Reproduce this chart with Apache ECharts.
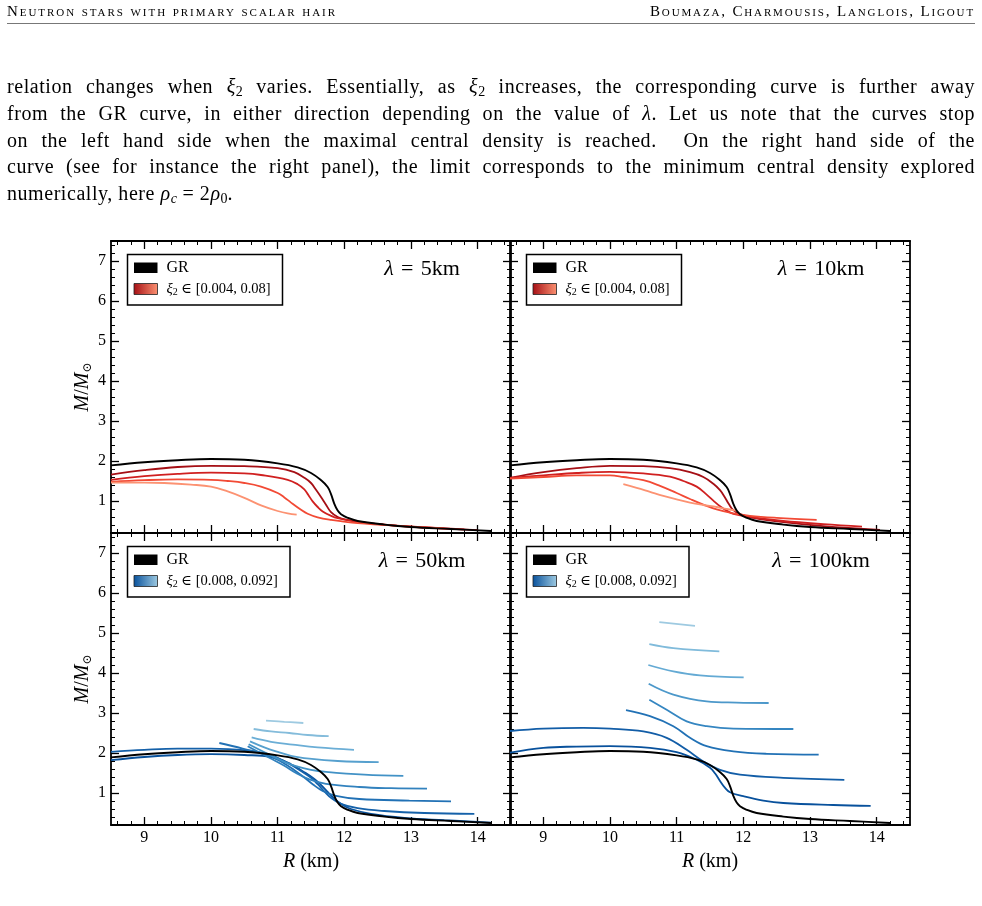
<!DOCTYPE html>
<html>
<head>
<meta charset="utf-8">
<script src="https://cdn.jsdelivr.net/npm/echarts@6/dist/echarts.min.js"></script>
<style>
html, body { margin: 0; padding: 0; background: #fff; }
body { width: 982px; height: 906px; position: relative; overflow: hidden;
  font-family: "Liberation Serif", "DejaVu Serif", serif; color: #000; }
#chart { position: absolute; left: 0; top: 0; width: 982px; height: 906px; }
.hdr { position: absolute; top: 3px; font-size: 15px; line-height: 17px; font-variant: small-caps; white-space: nowrap; }
.rule { position: absolute; left: 7px; top: 23px; width: 968px; height: 1.3px; background: #777; }
.line { position: absolute; left: 7px; width: 968px; font-size: 20px; line-height: 26.7px; white-space: nowrap;
  text-align: justify; text-align-last: justify; letter-spacing: 0.55px; }
.line.last { text-align: left; text-align-last: left; }
sub { font-size: 14px; line-height: 0; vertical-align: -3px; letter-spacing: 0; }
</style>
</head>
<body>
<div id="chart"></div>
<div class="hdr" id="hl" style="left:7px">Neutron stars with primary scalar hair</div>
<div class="hdr" id="hr" style="right:7px">Boumaza, Charmousis, Langlois, Ligout</div>
<div class="rule"></div>
<div class="line" style="top:73.2px">relation changes when <i>ξ</i><sub>2</sub> varies. Essentially, as <i>ξ</i><sub>2</sub> increases, the corresponding curve is further away</div>
<div class="line" style="top:99.9px">from the GR curve, in either direction depending on the value of <i>λ</i>. Let us note that the curves stop</div>
<div class="line" style="top:126.6px">on the left hand side when the maximal central density is reached.&nbsp; On the right hand side of the</div>
<div class="line" style="top:153.3px">curve (see for instance the right panel), the limit corresponds to the minimum central density explored</div>
<div class="line last" style="top:180px">numerically, here <i>ρ<sub>c</sub></i> = 2<i>ρ</i><sub>0</sub>.</div>
<script>
// axes
const xMin = 8.5, xMax = 14.5, yMin = 0.2, yMax = 7.5;
const xMajor = [9, 10, 11, 12, 13, 14];
const yMajor = [1, 2, 3, 4, 5, 6, 7];

// GR curve, same in every panel
const grCurve = [[8.5,1.89],[9,1.97],[9.5,2.02],[10,2.05],[10.5,2.03],[11,1.94],[11.3,1.84],[11.5,1.7],[11.65,1.52],[11.75,1.35],[11.8,1.17],[11.85,0.93],[11.9,0.76],[11.95,0.67],[12.05,0.58],[12.2,0.5],[12.6,0.41],[13,0.35],[13.6,0.3],[14.2,0.25]];

// lambda = 5km, xi2 in [0.004, 0.08]
const l5r1 = [[8.5,1.66],[9,1.77],[9.5,1.85],[10,1.88],[10.5,1.87],[11,1.82],[11.25,1.72],[11.4,1.58],[11.5,1.45],[11.575,1.28],[11.65,1.1],[11.72,0.92],[11.8,0.72],[11.9,0.6],[12,0.54],[12.3,0.46],[12.8,0.38],[13.4,0.32],[14,0.27]];
const l5r2 = [[8.5,1.53],[9,1.62],[9.5,1.68],[10,1.71],[10.5,1.69],[10.75,1.65],[11.15,1.53],[11.3,1.42],[11.4,1.29],[11.46,1.15],[11.525,0.99],[11.6,0.85],[11.675,0.74],[11.8,0.63],[11.9,0.57],[12.2,0.48],[12.6,0.41],[13.1,0.35],[13.8,0.29]];
const l5r3 = [[8.5,1.48],[9,1.52],[9.5,1.54],[10,1.53],[10.25,1.5],[10.5,1.45],[10.75,1.36],[11,1.2],[11.1,1.09],[11.2,0.96],[11.35,0.78],[11.45,0.68],[11.6,0.59],[11.8,0.53],[12.2,0.45],[12.8,0.38],[13.5,0.32]];
const l5r4 = [[8.5,1.46],[9,1.46],[9.3,1.45],[9.7,1.41],[10,1.36],[10.25,1.24],[10.5,1.08],[10.75,0.89],[11,0.75],[11.15,0.69],[11.285,0.66]];

// lambda = 10km
const l10r1 = [[8.5,1.58],[9,1.72],[9.5,1.82],[10,1.88],[10.5,1.87],[10.9,1.82],[11.2,1.72],[11.4,1.6],[11.55,1.43],[11.65,1.27],[11.72,1.1],[11.78,0.93],[11.85,0.77],[11.95,0.67],[12.15,0.58],[12.6,0.47],[13.2,0.37],[14.05,0.28]];
const l10r2 = [[8.5,1.58],[9,1.64],[9.5,1.7],[10,1.73],[10.5,1.69],[10.9,1.61],[11.1,1.5],[11.3,1.36],[11.45,1.16],[11.55,1.01],[11.65,0.87],[11.75,0.76],[11.85,0.68],[12.1,0.6],[12.6,0.5],[13.2,0.42],[13.78,0.36]];
const l10r3 = [[8.5,1.56],[9,1.6],[9.5,1.64],[10,1.64],[10.2,1.6],[10.5,1.52],[10.75,1.38],[11,1.2],[11.2,1.05],[11.4,0.91],[11.6,0.79],[11.85,0.69],[12.1,0.63],[12.5,0.58],[13.1,0.53]];
const l10r4 = [[10.2,1.42],[10.4,1.33],[10.6,1.23],[10.8,1.13],[11,1.04],[11.2,0.96],[11.4,0.9],[11.6,0.85],[11.75,0.8],[11.9,0.76]];

// lambda = 50km, xi2 in [0.008, 0.092]
const l50c0 = [[8.5,1.82],[9,1.9],[9.5,1.95],[10,1.97],[10.5,1.95],[10.9,1.9],[11.2,1.72],[11.4,1.52],[11.55,1.35],[11.65,1.2],[11.75,1.03],[11.85,0.86],[11.95,0.73],[12.1,0.6],[12.4,0.48],[12.9,0.38],[13.5,0.32],[14.2,0.26]];
const l50c1 = [[8.5,2.03],[9,2.08],[9.5,2.11],[10,2.11],[10.5,2.07],[10.9,1.95],[11.15,1.75],[11.35,1.55],[11.5,1.38],[11.6,1.22],[11.7,1.04],[11.8,0.88],[11.95,0.73],[12.2,0.62],[12.6,0.55],[13.2,0.5],[13.95,0.48]];
const l50c2 = [[10.125,2.25],[10.475,2.11],[10.875,1.93],[11.125,1.71],[11.375,1.42],[11.525,1.22],[11.675,1.05],[11.875,0.93],[12.225,0.85],[12.975,0.81],[13.6,0.79]];
const l50c3 = [[10.55,2.17],[10.875,1.88],[11.1,1.68],[11.275,1.5],[11.475,1.34],[11.725,1.23],[12.225,1.15],[12.7,1.12],[13.24,1.11]];
const l50c4 = [[10.565,2.22],[10.875,1.96],[11.1,1.78],[11.275,1.67],[11.5,1.58],[11.725,1.53],[12.3,1.46],[12.885,1.43]];
const l50c5 = [[10.585,2.29],[10.8,2.14],[10.975,2.04],[11.2,1.93],[11.475,1.86],[11.9,1.8],[12.515,1.77]];
const l50c6 = [[10.61,2.39],[10.9,2.28],[11.225,2.21],[11.6,2.14],[12.145,2.08]];
const l50c7 = [[10.64,2.6],[10.9,2.54],[11.175,2.5],[11.45,2.45],[11.765,2.42]];
const l50c8 = [[10.825,2.81],[11.1,2.78],[11.385,2.75]];

// lambda = 100km
const l100b1 = [[8.5,2.01],[9,2.13],[9.5,2.16],[10,2.17],[10.6,2.13],[11,2.02],[11.3,1.83],[11.5,1.63],[11.58,1.48],[11.65,1.3],[11.72,1.14],[11.8,1.02],[12,0.92],[12.3,0.81],[12.6,0.75],[13.35,0.7],[13.91,0.68]];
const l100b2 = [[8.5,2.55],[9,2.61],[9.6,2.63],[10,2.61],[10.5,2.54],[10.85,2.38],[11.15,2.08],[11.4,1.79],[11.65,1.58],[11.95,1.46],[12.6,1.38],[13.515,1.33]];
const l100b3 = [[10.24,3.07],[10.6,2.92],[10.95,2.67],[11.2,2.38],[11.45,2.17],[11.85,2.04],[12.35,1.98],[13.13,1.96]];
const l100b4 = [[10.59,3.33],[10.85,3.08],[11.15,2.79],[11.45,2.67],[11.85,2.61],[12.75,2.6]];
const l100b5 = [[10.58,3.73],[10.95,3.46],[11.45,3.29],[11.9,3.26],[12.38,3.25]];
const l100b6 = [[10.575,4.2],[10.95,4.04],[11.35,3.94],[12.005,3.89]];
const l100b7 = [[10.59,4.72],[10.95,4.62],[11.64,4.54]];
const l100b8 = [[10.74,5.27],[11.275,5.18]];

const lambdaLabels = ['5km', '10km', '50km', '100km'];
const xiRanges = ['[0.004, 0.08]', '[0.004, 0.08]', '[0.008, 0.092]', '[0.008, 0.092]'];

const reds = ['#a50f15', '#d02020', '#f24a35', '#fc9272'];
const blues9 = ['#08519c', '#1561a9', '#2171b5', '#3282be', '#4292c6', '#56a0ce', '#6baed6', '#84bcdb', '#9ecae1'];
const blues8 = ['#08519c', '#125da7', '#2171b5', '#3586c1', '#4c98ca', '#64aad4', '#80bbdb', '#9ecae1'];

const FONT = '"Liberation Serif","DejaVu Serif",serif';

const panels = [
  { left: 111, top: 241, curves: [l5r1, l5r2, l5r3, l5r4], colors: reds, grad: ['#a50f15', '#fc9272'], boxW: 155, xLab: false, yLab: true },
  { left: 510, top: 241, curves: [l10r1, l10r2, l10r3, l10r4], colors: reds, grad: ['#a50f15', '#fc9272'], boxW: 155, xLab: false, yLab: false },
  { left: 111, top: 533, curves: [l50c0, l50c1, l50c2, l50c3, l50c4, l50c5, l50c6, l50c7, l50c8], colors: blues9, grad: ['#08519c', '#9ecae1'], boxW: 162.5, xLab: true, yLab: true },
  { left: 510, top: 533, curves: [l100b1, l100b2, l100b3, l100b4, l100b5, l100b6, l100b7, l100b8], colors: blues8, grad: ['#08519c', '#9ecae1'], boxW: 162.5, xLab: true, yLab: false }
];
const W = 400, H = 292;

const xMinor = [], yMinor = [];
for (let v = 8.6; v < xMax; v += 0.2) {
  const r = Math.round(v * 10) / 10;
  if (Math.abs(r - Math.round(r)) > 1e-6) xMinor.push(r);
}
for (let v = 0.4; v < yMax; v += 0.2) {
  const r = Math.round(v * 10) / 10;
  if (Math.abs(r - Math.round(r)) > 1e-6) yMinor.push(r);
}

const nameRich = {
  i: { fontFamily: FONT, fontStyle: 'italic', fontSize: 20, lineHeight: 22, color: '#000' },
  n: { fontFamily: FONT, fontSize: 20, lineHeight: 22, color: '#000' },
  s: { fontFamily: 'DejaVu Serif', fontSize: 12, lineHeight: 12, verticalAlign: 'bottom', color: '#000' }
};

function axisSet(dim, g, pos, showLabel, name) {
  const isX = dim === 'x';
  const base = {
    gridIndex: g, type: 'value', position: pos,
    min: isX ? xMin : yMin, max: isX ? xMax : yMax,
    splitLine: { show: false }, minorTick: { show: false }, axisPointer: { show: false }
  };
  const major = Object.assign({}, base, {
    axisLine: { show: true, onZero: false, lineStyle: { color: '#000', width: 1.8 } },
    axisTick: { show: true, inside: true, length: 8, customValues: isX ? xMajor : yMajor, lineStyle: { color: '#000', width: 1.3 } },
    axisLabel: { show: showLabel, customValues: isX ? xMajor : yMajor, margin: 5, color: '#000', fontSize: 16, fontFamily: FONT },
    name: name || '',
    nameLocation: 'middle',
    nameGap: isX ? 26 : 15,
    nameRotate: isX ? 0 : 90,
    nameTextStyle: { color: '#000', fontFamily: FONT, fontSize: 20, rich: nameRich }
  });
  const minor = Object.assign({}, base, {
    axisLine: { show: false, onZero: false },
    axisTick: { show: true, inside: true, length: 4, customValues: isX ? xMinor : yMinor, lineStyle: { color: '#000', width: 1 } },
    axisLabel: { show: false }
  });
  return [major, minor];
}

const grids = [], xAxes = [], yAxes = [], series = [], graphics = [];
panels.forEach((p, g) => {
  grids.push({ left: p.left, top: p.top, width: W, height: H });
  const xi = xAxes.length, yi = yAxes.length;
  xAxes.push(...axisSet('x', g, 'bottom', p.xLab, p.xLab ? '{i|R}{n| (km)}' : ''));
  xAxes.push(...axisSet('x', g, 'top', false));
  yAxes.push(...axisSet('y', g, 'left', p.yLab, p.yLab ? '{i|M}{n|/}{i|M}{s|⊙}' : ''));
  yAxes.push(...axisSet('y', g, 'right', false));

  p.curves.forEach((c, k) => {
    series.push({
      type: 'line', xAxisIndex: xi, yAxisIndex: yi, data: c,
      showSymbol: false, smooth: 0.4, silent: true,
      lineStyle: { color: p.colors[k], width: 1.8 }, z: 2
    });
  });
  series.push({
    type: 'line', name: 'GR', xAxisIndex: xi, yAxisIndex: yi, data: grCurve,
    showSymbol: false, smooth: 0.4, silent: true,
    lineStyle: { color: '#000', width: 1.9 }, z: 3
  });

  // legend box
  const bx = p.left + 16.5, by = p.top + 13.5;
  graphics.push({ type: 'rect', z: 10, shape: { x: bx, y: by, width: p.boxW, height: 50.5 },
    style: { fill: '#fff', stroke: '#000', lineWidth: 1.5 } });
  graphics.push({ type: 'rect', z: 11, shape: { x: bx + 6.5, y: by + 8, width: 23.5, height: 10.5 },
    style: { fill: '#000' } });
  graphics.push({ type: 'rect', z: 11, shape: { x: bx + 6.5, y: by + 29, width: 23.5, height: 11 },
    style: { stroke: '#222', lineWidth: 0.8,
      fill: new echarts.graphic.LinearGradient(0, 0, 1, 0, [{ offset: 0, color: p.grad[0] }, { offset: 1, color: p.grad[1] }]) } });
  graphics.push({ type: 'text', z: 11, x: bx + 39, y: by + 13.5,
    style: { text: 'GR', fontFamily: FONT, fontSize: 16, fill: '#000', verticalAlign: 'middle' } });
  graphics.push({ type: 'text', z: 11, x: bx + 39, y: by + 34.5,
    style: { text: '{i|ξ}{s|2}{n| ∈ ' + xiRanges[g] + '}', verticalAlign: 'middle',
      rich: {
        i: { fontFamily: FONT, fontStyle: 'italic', fontSize: 14.5, lineHeight: 16, fill: '#000' },
        n: { fontFamily: FONT, fontSize: 14.5, lineHeight: 16, fill: '#000' },
        s: { fontFamily: FONT, fontSize: 10, lineHeight: 10, verticalAlign: 'bottom', fill: '#000' }
      } } });
  // lambda label
  graphics.push({ type: 'text', z: 11, x: p.left + 311, y: p.top + 28,
    style: { text: '{i|λ}{n|\u2004=\u2004' + lambdaLabels[g] + '}', align: 'center', verticalAlign: 'middle',
      rich: {
        i: { fontFamily: FONT, fontStyle: 'italic', fontSize: 22, fill: '#000' },
        n: { fontFamily: FONT, fontSize: 22, fill: '#000' }
      } } });
});

const chart = echarts.init(document.getElementById('chart'), null, { renderer: 'canvas' });
chart.setOption({
  animation: false,
  backgroundColor: 'transparent',
  grid: grids,
  xAxis: xAxes,
  yAxis: yAxes,
  series: series,
  graphic: graphics
});

// stretch header texts to their widths in the page
function fitWidth(el, target) {
  const n = el.textContent.length;
  const w = el.getBoundingClientRect().width;
  el.style.letterSpacing = ((target - w) / n) + 'px';
}
fitWidth(document.getElementById('hl'), 330);
fitWidth(document.getElementById('hr'), 325);
</script>
</body>
</html>
